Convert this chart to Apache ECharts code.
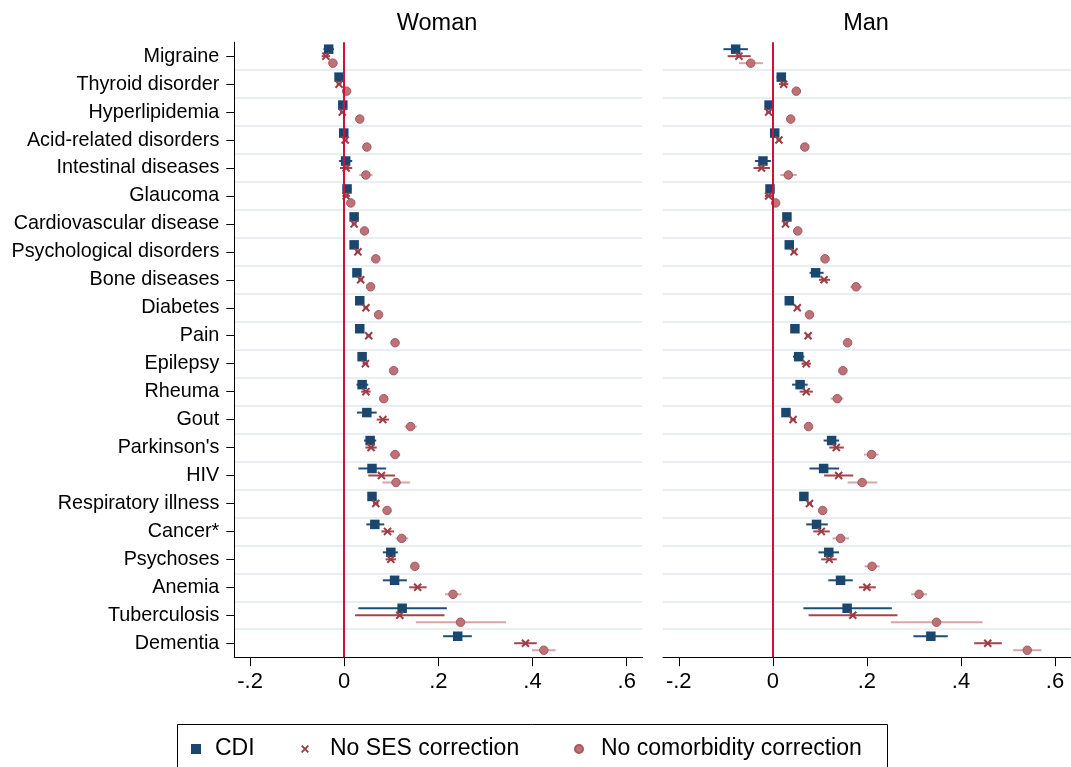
<!DOCTYPE html>
<html>
<head>
<meta charset="utf-8">
<script src="https://cdn.jsdelivr.net/npm/echarts@6/dist/echarts.min.js"></script>
<style>
  html, body { margin: 0; padding: 0; background: #fff; }
  #chart { width: 1071px; height: 767px; }
</style>
</head>
<body>
<div id="chart"></div>
<script>
// categories, top to bottom
const categories = ['Migraine', 'Thyroid disorder', 'Hyperlipidemia', 'Acid-related disorders',
  'Intestinal diseases', 'Glaucoma', 'Cardiovascular disease', 'Psychological disorders',
  'Bone diseases', 'Diabetes', 'Pain', 'Epilepsy', 'Rheuma', 'Gout', "Parkinson's", 'HIV',
  'Respiratory illness', 'Cancer*', 'Psychoses', 'Anemia', 'Tuberculosis', 'Dementia'];

const xTicks = [-0.2, 0, 0.2, 0.4, 0.6];
const panels = ['Woman', 'Man'];

// Woman
const womanCdi   = [-0.033, -0.011, -0.003, -0.001, 0.003, 0.006, 0.021, 0.021, 0.027, 0.033, 0.033, 0.038, 0.038, 0.048, 0.055, 0.059, 0.059, 0.065, 0.099, 0.107, 0.123, 0.241];
const womanCdiLo = [-0.044, -0.016, -0.012, -0.006, -0.011, -0.003, 0.016, 0.016, 0.021, 0.027, 0.028, 0.031, 0.026, 0.027, 0.042, 0.030, 0.053, 0.047, 0.082, 0.082, 0.030, 0.210];
const womanCdiHi = [-0.022, -0.006, 0.006, 0.004, 0.017, 0.015, 0.026, 0.026, 0.033, 0.039, 0.038, 0.045, 0.051, 0.069, 0.068, 0.089, 0.065, 0.085, 0.114, 0.133, 0.218, 0.271];
const womanSes   = [-0.039, -0.011, -0.004, 0.002, 0.004, 0.004, 0.021, 0.029, 0.035, 0.046, 0.052, 0.045, 0.046, 0.082, 0.057, 0.079, 0.067, 0.092, 0.099, 0.156, 0.118, 0.385];
const womanSesLo = [-0.048, -0.016, -0.009, -0.003, -0.009, -0.004, 0.016, 0.024, 0.030, 0.041, 0.047, 0.039, 0.036, 0.069, 0.045, 0.051, 0.061, 0.079, 0.088, 0.138, 0.023, 0.361];
const womanSesHi = [-0.030, -0.006, 0.001, 0.007, 0.017, 0.012, 0.026, 0.034, 0.040, 0.051, 0.057, 0.051, 0.056, 0.095, 0.069, 0.108, 0.073, 0.106, 0.110, 0.175, 0.213, 0.409];
const womanCom   = [-0.024, 0.005, 0.033, 0.048, 0.046, 0.014, 0.043, 0.067, 0.056, 0.073, 0.108, 0.105, 0.084, 0.141, 0.108, 0.110, 0.091, 0.122, 0.150, 0.231, 0.247, 0.424];
const womanComLo = [-0.031, 0.000, 0.029, 0.044, 0.032, 0.010, 0.039, 0.063, 0.051, 0.068, 0.103, 0.100, 0.077, 0.128, 0.097, 0.081, 0.086, 0.109, 0.143, 0.214, 0.152, 0.399];
const womanComHi = [-0.017, 0.010, 0.037, 0.052, 0.060, 0.018, 0.047, 0.071, 0.061, 0.078, 0.113, 0.110, 0.091, 0.154, 0.119, 0.140, 0.096, 0.136, 0.157, 0.249, 0.344, 0.449];

// Man
const manCdi   = [-0.079, 0.018, -0.008, 0.004, -0.021, -0.006, 0.030, 0.035, 0.091, 0.035, 0.047, 0.055, 0.058, 0.028, 0.125, 0.108, 0.066, 0.093, 0.119, 0.144, 0.158, 0.336];
const manCdiLo = [-0.105, 0.008, -0.014, -0.002, -0.038, -0.012, 0.025, 0.030, 0.078, 0.030, 0.042, 0.043, 0.041, 0.019, 0.108, 0.078, 0.060, 0.071, 0.097, 0.118, 0.065, 0.299];
const manCdiHi = [-0.053, 0.028, -0.002, 0.010, -0.004, 0.000, 0.035, 0.040, 0.108, 0.040, 0.052, 0.067, 0.074, 0.037, 0.141, 0.141, 0.072, 0.117, 0.141, 0.170, 0.253, 0.372];
const manSes   = [-0.072, 0.023, -0.009, 0.013, -0.024, -0.009, 0.027, 0.045, 0.109, 0.052, 0.075, 0.071, 0.071, 0.043, 0.135, 0.140, 0.078, 0.103, 0.120, 0.200, 0.170, 0.457];
const manSesLo = [-0.096, 0.013, -0.014, 0.008, -0.041, -0.017, 0.022, 0.040, 0.098, 0.047, 0.070, 0.061, 0.057, 0.037, 0.120, 0.109, 0.073, 0.086, 0.103, 0.183, 0.076, 0.428];
const manSesHi = [-0.047, 0.033, -0.004, 0.018, -0.006, -0.001, 0.032, 0.050, 0.122, 0.057, 0.080, 0.081, 0.085, 0.049, 0.151, 0.171, 0.083, 0.121, 0.136, 0.219, 0.265, 0.487];
const manCom   = [-0.047, 0.050, 0.038, 0.068, 0.033, 0.006, 0.053, 0.111, 0.177, 0.078, 0.159, 0.149, 0.137, 0.076, 0.210, 0.190, 0.106, 0.144, 0.211, 0.311, 0.348, 0.541];
const manComLo = [-0.072, 0.040, 0.034, 0.064, 0.016, 0.002, 0.049, 0.107, 0.165, 0.074, 0.155, 0.143, 0.123, 0.072, 0.194, 0.159, 0.102, 0.127, 0.195, 0.294, 0.251, 0.511];
const manComHi = [-0.021, 0.060, 0.042, 0.072, 0.051, 0.010, 0.057, 0.115, 0.190, 0.082, 0.163, 0.155, 0.150, 0.080, 0.225, 0.222, 0.110, 0.162, 0.227, 0.328, 0.446, 0.571];

const FONT = "'Liberation Sans', Arial, sans-serif";
const sqPath = 'path://M0,0H10V10H0Z';
const xPath = 'path://M0,1.7L1.7,0L5,3.3L8.3,0L10,1.7L6.7,5L10,8.3L8.3,10L5,6.7L1.7,10L0,8.3L3.3,5Z';

const seriesDefs = [
  { name: 'CDI', symbol: sqPath, size: 9.5, color: '#1a476f', border: '#1a476f', bar: '#1f4d79', dy: -7 },
  { name: 'No SES correction', symbol: xPath, size: 8.5, color: '#9c3d45', border: '#9c3d45', bar: '#a1464e', dy: 0 },
  { name: 'No comorbidity correction', symbol: 'circle', size: 8.5, color: '#bd7277', border: '#a8585f', bar: '#d6a5a8', dy: 7 }
];

const panelData = [
  [[womanCdi, womanCdiLo, womanCdiHi], [womanSes, womanSesLo, womanSesHi], [womanCom, womanComLo, womanComHi]],
  [[manCdi, manCdiLo, manCdiHi], [manSes, manSesLo, manSesHi], [manCom, manComLo, manComHi]]
];

const gridLeft = [234.3, 663];
const gridW = 408.4;

const fmt = v => v === 0 ? '0' : (v < 0 ? '-' : '') + '.' + Math.round(Math.abs(v) * 10);

const series = [];
panelData.forEach((sets, p) => {
  sets.forEach((s, k) => {
    const def = seriesDefs[k];
    series.push({
      name: def.name + ' ci',
      type: 'custom',
      xAxisIndex: p, yAxisIndex: p,
      silent: true, z: 2,
      encode: { x: [0, 1], y: 2 },
      data: s[0].map((v, i) => [s[1][i], s[2][i], i]),
      renderItem: (params, api) => {
        const a = api.coord([api.value(0), api.value(2)]);
        const b = api.coord([api.value(1), api.value(2)]);
        return {
          type: 'line',
          shape: { x1: a[0], y1: a[1] + def.dy, x2: b[0], y2: b[1] + def.dy },
          style: { stroke: def.bar, lineWidth: 2 }
        };
      }
    });
  });
  sets.forEach((s, k) => {
    const def = seriesDefs[k];
    const ser = {
      name: def.name,
      type: 'scatter',
      xAxisIndex: p, yAxisIndex: p,
      z: 3,
      symbol: def.symbol,
      symbolSize: def.size,
      symbolOffset: [0, def.dy],
      itemStyle: { color: def.color, borderColor: def.border, borderWidth: k === 2 ? 1 : 0, opacity: 1 },
      data: s[0].map((v, i) => [v, i])
    };
    if (k === 0) {
      ser.markLine = {
        silent: true, symbol: ['none', 'none'], label: { show: false },
        lineStyle: { color: '#d0103a', width: 2, type: 'solid' },
        data: [{ xAxis: 0 }]
      };
    }
    series.push(ser);
  });
});

const option = {
  backgroundColor: '#fff',
  animation: false,
  textStyle: { fontFamily: FONT },
  grid: gridLeft.map(l => ({ left: l, width: gridW, top: 42.2, height: 615 })),
  xAxis: [0, 1].map(p => ({
    type: 'value', gridIndex: p, min: -0.2335, max: 0.634,
    axisLine: { show: true, onZero: false, lineStyle: { color: '#000', width: 1 } },
    axisTick: { show: true, length: 9, lineStyle: { color: '#000' }, customValues: xTicks },
    axisLabel: { color: '#000', fontSize: 22, fontFamily: FONT, margin: 14, customValues: xTicks, formatter: fmt },
    splitLine: { show: false }
  })),
  yAxis: [0, 1].map(p => ({
    type: 'category', gridIndex: p, inverse: true, data: categories,
    axisLine: { show: p === 0, onZero: false, lineStyle: { color: '#000', width: 1 } },
    axisTick: { show: p === 0, alignWithLabel: true, length: 8, lineStyle: { color: '#000' } },
    axisLabel: { show: p === 0, color: '#000', fontSize: 19.8, fontFamily: FONT, margin: 15 },
    splitLine: { show: true, showMinLine: false, showMaxLine: false, lineStyle: { color: '#e8eff3', width: 2 } }
  })),
  legend: [
    { data: [{ name: 'CDI', icon: sqPath }], left: 191, itemWidth: 10, itemHeight: 10, pad: 9 },
    { data: [{ name: 'No SES correction', icon: xPath }], left: 301, itemWidth: 8, itemHeight: 8, pad: 16 },
    { data: [{ name: 'No comorbidity correction', icon: 'circle' }], left: 574, itemWidth: 8, itemHeight: 8, pad: 13 }
  ].map(l => ({
    data: l.data, left: l.left, itemWidth: l.itemWidth, itemHeight: l.itemHeight,
    top: 737, padding: 0, selectedMode: false,
    textStyle: { fontSize: 23, lineHeight: 24, color: '#000', fontFamily: FONT, padding: [0, 0, 0, l.pad] }
  })),
  graphic: [
    { type: 'text', x: 437, y: 23.5, style: { text: panels[0], align: 'center', verticalAlign: 'middle', font: '23.5px ' + FONT, fill: '#000' } },
    { type: 'text', x: 866, y: 23.5, style: { text: panels[1], align: 'center', verticalAlign: 'middle', font: '23.5px ' + FONT, fill: '#000' } },
    { type: 'rect', shape: { x: 177.5, y: 724.5, width: 710, height: 60 }, style: { fill: 'none', stroke: '#000', lineWidth: 1 } }
  ],
  series: series
};

const myChart = echarts.init(document.getElementById('chart'));
myChart.setOption(option);
</script>
</body>
</html>
